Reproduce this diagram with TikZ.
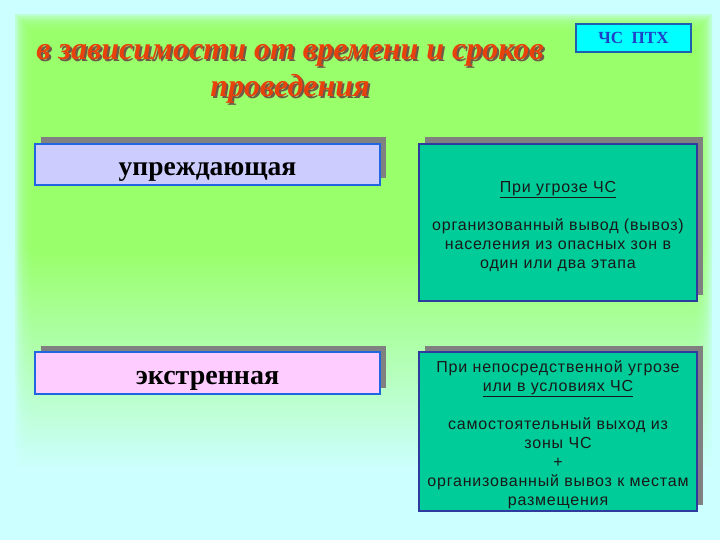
\documentclass[tikz,border=0pt]{standalone}
\usepackage{fontspec}
\setmainfont{Liberation Serif}
\newfontfamily\sansf[LetterSpace=5]{Liberation Sans}
\usetikzlibrary{shadows}
\definecolor{bgcyan}{HTML}{CCFFFF}
\definecolor{bggreen}{HTML}{99FF66}
\definecolor{titlered}{HTML}{E8420C}
\definecolor{titleshade}{HTML}{6E5A48}
\definecolor{leftblue}{HTML}{1F66E0}
\definecolor{lavfill}{HTML}{CCCCFF}
\definecolor{pinkfill}{HTML}{FFCCFF}
\definecolor{tealfill}{HTML}{00CC99}
\definecolor{darkblue}{HTML}{2E3A9E}
\definecolor{shadowgray}{HTML}{808080}
\definecolor{tagfill}{HTML}{00FFFF}
\definecolor{tagborder}{HTML}{1F5FAF}
\definecolor{tagtext}{HTML}{1E40C8}
\newcommand\toppad{\rule{0pt}{19pt}}
\begin{document}
\begin{tikzpicture}[x=1pt,y=-1pt,
  boxshadow/.style={drop shadow={shadow xshift=6pt, shadow yshift=6.5pt, fill=shadowgray, opacity=1}},
  leftbox/.style={draw=leftblue, line width=2.5pt, minimum width=345pt, inner sep=0pt,
    text height=22pt, text depth=0pt, text=black, boxshadow},
  rightbox/.style={draw=darkblue, line width=2.5pt, fill=tealfill, minimum width=278pt, inner sep=0pt,
    text width=276pt, align=center, font=\sansf\fontsize{16}{19}\selectfont, text=black!90, boxshadow},
  titletext/.style={align=center, font=\bfseries\itshape\fontsize{32}{37.5}\selectfont},
  tag/.style={draw=tagborder, line width=1.2pt, fill=tagfill, minimum width=115pt, minimum height=28pt,
    inner sep=0pt, font=\bfseries\fontsize{17}{20}\selectfont, text=tagtext}
]
\useasboundingbox (0,0) rectangle (720,540);
\fill[bgcyan] (0,0) rectangle (720,540);
\foreach \k in {0,...,9}
  \shade[top color=bggreen, bottom color=bgcyan, middle color=bggreen, opacity=0.28]
    (15+2*\k,15+2*\k) rectangle (712-2*\k,470);

\node[titletext, text=titleshade] (titleshadow) at (292,76) {в зависимости от времени и сроков\\проведения};
\node[titletext, text=titlered] (title) at (290,74) {в зависимости от времени и сроков\\проведения};

\node[tag] (tag) at (633.5,38) {ЧС~~ПТХ};

\node[leftbox, fill=lavfill, minimum height=41pt, font=\bfseries\fontsize{27.5}{30}\selectfont] (pre) at (207.5,164.5) {упреждающая};
\node[leftbox, fill=pinkfill, minimum height=42pt, font=\bfseries\fontsize{28}{30}\selectfont] (emg) at (207.5,373) {экстренная};

\node[rightbox, minimum height=157pt] (r1) at (558,222.5)
  {\toppad\underline{При угрозе ЧС}\\[19pt]организованный вывод (вывоз)\\населения из опасных зон в\\один или два этапа};
\node[rightbox, minimum height=159pt] (r2) at (558,431.5)
  {\toppad При непосредственной угрозе\\\underline{или в условиях ЧС}\\[19pt]самостоятельный выход из\\зоны ЧС\\+\\организованный вывоз к местам\\размещения};
\end{tikzpicture}
\end{document}
